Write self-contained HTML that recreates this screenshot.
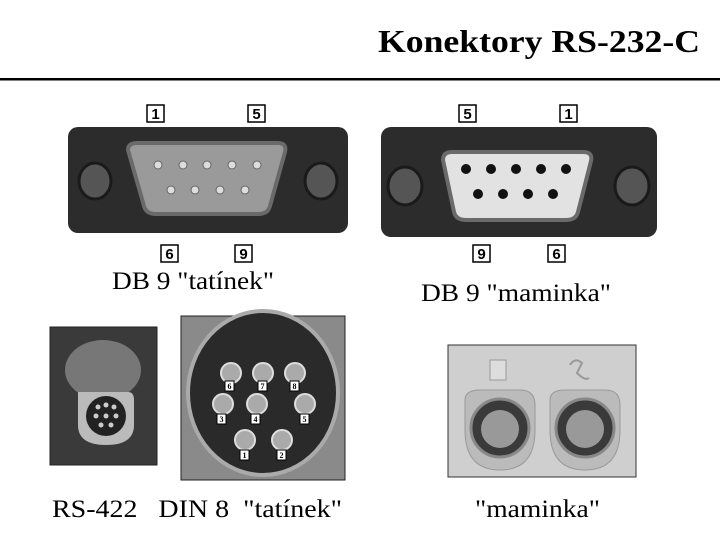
<!DOCTYPE html>
<html><head><meta charset="utf-8"><style>
html,body{margin:0;padding:0;background:#fff}
svg{display:block}
text{font-family:"Liberation Serif",serif}
.lb{font-family:"Liberation Sans",sans-serif;font-weight:bold;font-size:15px}
</style></head><body>
<svg width="720" height="540" viewBox="0 0 720 540" xmlns="http://www.w3.org/2000/svg">
<text x="700" y="52" text-anchor="end" font-size="32" font-weight="bold" textLength="322" lengthAdjust="spacingAndGlyphs">Konektory RS-232-C</text>
<rect x="0" y="78" width="720" height="2.5" fill="#000"/>

<!-- male DB9 -->
<rect x="68" y="127" width="280" height="106" rx="10" fill="#2c2c2c"/>
<ellipse cx="95" cy="181" rx="16" ry="18" fill="#555" stroke="#1a1a1a" stroke-width="3"/>
<ellipse cx="321" cy="181" rx="16" ry="18" fill="#555" stroke="#1a1a1a" stroke-width="3"/>
<path d="M128 150 Q128 143 137 143 L278 143 Q287 143 285 152 L270 206 Q268 214 258 214 L156 214 Q146 214 144 206 Z" fill="#9a9a9a" stroke="#6a6a6a" stroke-width="4"/>
<g fill="#ddd" stroke="#666" stroke-width="1">
<circle cx="158" cy="165" r="4"/><circle cx="183" cy="165" r="4"/><circle cx="207" cy="165" r="4"/><circle cx="232" cy="165" r="4"/><circle cx="257" cy="165" r="4"/>
<circle cx="171" cy="190" r="4"/><circle cx="195" cy="190" r="4"/><circle cx="220" cy="190" r="4"/><circle cx="245" cy="190" r="4"/>
</g>
<!-- labels -->
<g fill="#fff" stroke="#000" stroke-width="1.5">
<rect x="147" y="105" width="17" height="17"/><rect x="248" y="105" width="17" height="17"/>
<rect x="161" y="245" width="17" height="17"/><rect x="235" y="245" width="17" height="17"/>
<rect x="459" y="105" width="17" height="17"/><rect x="560" y="105" width="17" height="17"/>
<rect x="473" y="245" width="17" height="17"/><rect x="548" y="245" width="17" height="17"/>
</g>
<g text-anchor="middle">
<text class="lb" x="155.5" y="119">1</text><text class="lb" x="256.5" y="119">5</text>
<text class="lb" x="169.5" y="259">6</text><text class="lb" x="243.5" y="259">9</text>
<text class="lb" x="467.5" y="119">5</text><text class="lb" x="568.5" y="119">1</text>
<text class="lb" x="481.5" y="259">9</text><text class="lb" x="556.5" y="259">6</text>
</g>

<!-- female DB9 -->
<rect x="381" y="127" width="276" height="110" rx="10" fill="#2c2c2c"/>
<ellipse cx="405" cy="186" rx="17" ry="19" fill="#555" stroke="#1a1a1a" stroke-width="3"/>
<ellipse cx="632" cy="186" rx="17" ry="19" fill="#555" stroke="#1a1a1a" stroke-width="3"/>
<path d="M443 160 Q443 152 452 152 L583 152 Q593 152 591 161 L578 212 Q576 220 566 220 L466 220 Q456 220 454 212 Z" fill="#e2e2e2" stroke="#6a6a6a" stroke-width="4"/>
<g fill="#111">
<circle cx="466" cy="169" r="5"/><circle cx="491" cy="169" r="5"/><circle cx="516" cy="169" r="5"/><circle cx="541" cy="169" r="5"/><circle cx="566" cy="169" r="5"/>
<circle cx="478" cy="194" r="5"/><circle cx="503" cy="194" r="5"/><circle cx="528" cy="194" r="5"/><circle cx="553" cy="194" r="5"/>
</g>

<text x="112" y="289" font-size="25" textLength="162" lengthAdjust="spacingAndGlyphs">DB 9 "tatínek"</text>
<text x="421" y="301" font-size="25" textLength="190" lengthAdjust="spacingAndGlyphs">DB 9 "maminka"</text>

<!-- RS-422 photo -->
<rect x="50" y="327" width="107" height="138" fill="#3a3a3a" stroke="#222"/>
<ellipse cx="103" cy="370" rx="38" ry="30" fill="#777"/>
<path d="M78 392 L128 392 Q134 392 134 400 L134 425 Q134 445 106 445 Q78 445 78 425 Z" fill="#bbb"/>
<circle cx="106" cy="416" r="20" fill="#222"/>
<g fill="#ccc"><circle cx="98" cy="407" r="2.5"/><circle cx="106" cy="405" r="2.5"/><circle cx="114" cy="407" r="2.5"/><circle cx="96" cy="416" r="2.5"/><circle cx="106" cy="416" r="2.5"/><circle cx="116" cy="416" r="2.5"/><circle cx="101" cy="425" r="2.5"/><circle cx="111" cy="425" r="2.5"/></g>

<!-- DIN photo -->
<rect x="181" y="316" width="164" height="164" fill="#8a8a8a" stroke="#222"/>
<ellipse cx="263" cy="393" rx="75" ry="82" fill="#2a2a2a" stroke="#aaa" stroke-width="4"/>
<g fill="#aaa" stroke="#ddd" stroke-width="2">
<circle cx="231" cy="373" r="10"/><circle cx="263" cy="373" r="10"/><circle cx="295" cy="373" r="10"/>
<circle cx="223" cy="404" r="10"/><circle cx="257" cy="404" r="10"/><circle cx="305" cy="404" r="10"/>
<circle cx="245" cy="440" r="10"/><circle cx="282" cy="440" r="10"/>
</g>
<g fill="#fff" stroke="#000" stroke-width="1">
<rect x="225" y="381" width="9" height="10"/><rect x="258" y="381" width="9" height="10"/><rect x="290" y="381" width="9" height="10"/>
<rect x="217" y="414" width="9" height="10"/><rect x="251" y="414" width="9" height="10"/><rect x="300" y="414" width="9" height="10"/>
<rect x="240" y="450" width="9" height="10"/><rect x="277" y="450" width="9" height="10"/>
</g>
<g font-family="Liberation Sans,sans-serif" font-size="8" font-weight="bold" text-anchor="middle">
<text x="229.5" y="389">6</text><text x="262.5" y="389">7</text><text x="294.5" y="389">8</text>
<text x="221.5" y="422">3</text><text x="255.5" y="422">4</text><text x="304.5" y="422">5</text>
<text x="244.5" y="458">1</text><text x="281.5" y="458">2</text>
</g>

<!-- right photo -->
<rect x="448" y="345" width="188" height="132" fill="#cfcfcf" stroke="#333"/>
<path d="M465 400 Q465 390 480 390 L520 390 Q535 390 535 405 L535 430 Q535 470 500 470 Q465 470 465 430 Z" fill="#bbb" stroke="#999"/>
<path d="M550 400 Q550 390 565 390 L605 390 Q620 390 620 405 L620 430 Q620 470 585 470 Q550 470 550 430 Z" fill="#bbb" stroke="#999"/>
<circle cx="500" cy="428" r="29" fill="#3a3a3a" stroke="#888" stroke-width="3"/>
<circle cx="585" cy="428" r="29" fill="#3a3a3a" stroke="#888" stroke-width="3"/>
<circle cx="500" cy="429" r="19" fill="#999"/>
<circle cx="585" cy="429" r="19" fill="#999"/>
<rect x="490" y="360" width="16" height="20" fill="#ddd" stroke="#999"/>
<path d="M570 365 q5 -8 12 -2 l-5 10 q8 8 12 5" fill="none" stroke="#999" stroke-width="2"/>

<text x="52" y="517" font-size="25" textLength="290" lengthAdjust="spacingAndGlyphs" xml:space="preserve">RS-422   DIN 8  "tatínek"</text>
<text x="475" y="517" font-size="25" textLength="125" lengthAdjust="spacingAndGlyphs">"maminka"</text>
</svg>
</body></html>
